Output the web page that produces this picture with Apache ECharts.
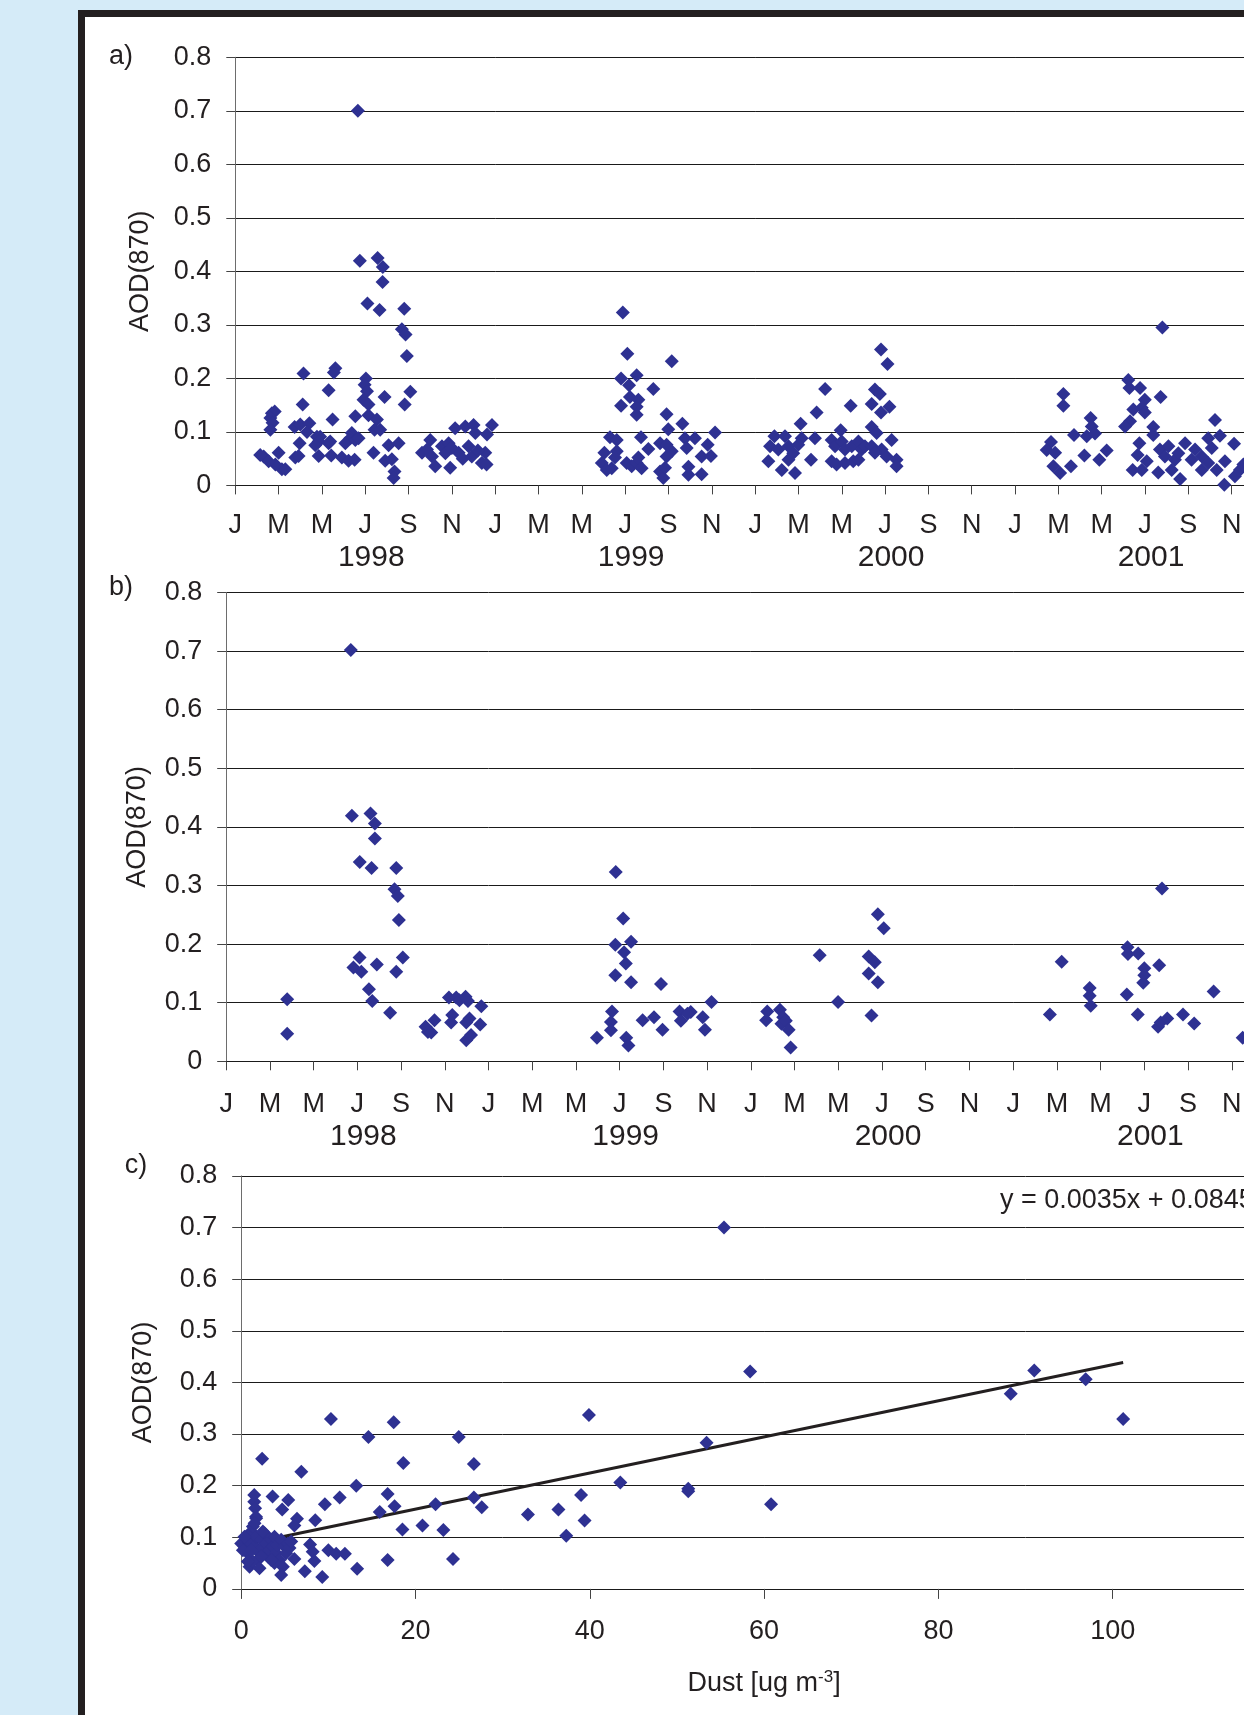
<!DOCTYPE html>
<html>
<head>
<meta charset="utf-8">
<script src="https://cdn.jsdelivr.net/npm/echarts@6/dist/echarts.min.js"></script>
<style>
  html, body { margin:0; padding:0; width:1244px; height:1715px; overflow:hidden; background:#d5ebf8; }
  #frame { position:absolute; left:78px; top:10px; width:1400px; height:1800px; background:#fff;
           border-left:7px solid #231f20; border-top:7px solid #231f20; }
  #chart { position:absolute; left:0; top:0; width:1400px; height:1715px; }
</style>
</head>
<body>
<div id="frame"></div>
<div id="chart"></div>
<script>
// ---------- DATA ----------
// x of panels a & b: months since 1 Jan 1998; y: AOD(870)
const monthTickLetters = ['J','M','M','J','S','N'];
const firstYear = 1998;
const aodTicks = [0,0.1,0.2,0.3,0.4,0.5,0.6,0.7,0.8];
const dustTicks = [0,20,40,60,80,100,120];

// Panel a) all AOD observations
const a1998 = [
  [1.31,0.054],[2.0,0.061],[1.85,0.039],[2.15,0.030],[2.31,0.030],[1.69,0.135],[1.82,0.138],[1.62,0.126],
  [1.72,0.117],[1.62,0.104],[1.54,0.045],[1.15,0.057],[2.74,0.109],[3.0,0.114],[3.42,0.116],[3.31,0.100],
  [3.77,0.091],[3.92,0.091],[3.85,0.082],[3.15,0.209],[3.11,0.151],[2.97,0.079],[2.77,0.052],[2.92,0.055],
  [3.69,0.075],[4.31,0.079],[4.38,0.082],[3.85,0.055],[4.43,0.056],[4.31,0.178],[4.62,0.219],[4.55,0.211],
  [4.49,0.123],[4.92,0.052],[5.23,0.046],[5.51,0.048],[5.38,0.098],[5.31,0.088],[5.08,0.079],[5.54,0.085],
  [5.69,0.088],[5.54,0.129],[6.03,0.200],[5.97,0.188],[6.08,0.176],[5.92,0.160],[6.15,0.151],[6.15,0.131],
  [6.54,0.123],[6.43,0.104],[6.69,0.104],[6.38,0.061],[6.89,0.165],[6.10,0.340],[6.66,0.328],[7.80,0.330],
  [7.69,0.292],[7.86,0.282],[7.92,0.242],[8.08,0.175],[7.82,0.151],[7.08,0.075],[7.54,0.079],[6.92,0.046],
  [7.23,0.049],[7.35,0.026],[7.31,0.014],[9.0,0.085],[5.66,0.700],[5.75,0.420],[6.57,0.425],[6.81,0.408],
  [6.80,0.380],
  [8.62,0.061],[8.85,0.067],[9.08,0.054],[9.23,0.036],[9.54,0.073],[9.85,0.079],[9.92,0.033],[10.15,0.107],
  [10.31,0.061],[10.62,0.110],[10.77,0.073],[11.0,0.113],[11.08,0.098],[10.92,0.054],[11.38,0.042],[11.62,0.095],
  [11.54,0.061],[11.85,0.113],[9.7,0.060],[10.0,0.070],[10.5,0.050],[11.2,0.065],[11.6,0.039]
];
const a1999 = [
  [17.89,0.323],[18.1,0.246],[20.15,0.232],[17.81,0.200],[18.53,0.206],[18.18,0.187],[19.3,0.180],[18.22,0.165],
  [18.61,0.160],[17.81,0.149],[18.53,0.147],[18.53,0.132],[19.91,0.133],[19.99,0.105],[20.64,0.115],[22.15,0.099],
  [17.3,0.090],[17.61,0.085],[18.73,0.090],[17.04,0.061],[17.61,0.064],[17.53,0.052],[16.92,0.042],[17.15,0.029],
  [17.38,0.032],[18.07,0.042],[18.3,0.036],[18.53,0.042],[18.76,0.032],[18.61,0.052],[19.07,0.068],[19.61,0.079],
  [19.91,0.076],[20.15,0.064],[19.91,0.054],[19.61,0.026],[19.76,0.014],[19.84,0.033],[20.76,0.088],[21.22,0.088],
  [20.84,0.070],[20.92,0.035],[20.92,0.020],[21.53,0.054],[21.96,0.055],[21.81,0.076],[21.53,0.021]
];
const a2000 = [
  [29.81,0.254],[30.11,0.227],[27.23,0.180],[29.53,0.179],[29.76,0.171],[28.41,0.149],[29.38,0.152],[30.2,0.147],
  [29.81,0.136],[26.84,0.136],[26.1,0.115],[29.38,0.109],[29.61,0.098],[27.95,0.103],[24.89,0.092],[25.38,0.092],
  [26.15,0.088],[26.76,0.088],[24.69,0.073],[25.07,0.067],[25.54,0.073],[24.61,0.045],[25.23,0.029],[25.84,0.023],
  [25.54,0.048],[25.76,0.060],[25.99,0.076],[26.58,0.048],[27.53,0.085],[27.69,0.073],[28.0,0.082],[28.15,0.067],
  [28.46,0.073],[28.77,0.082],[28.92,0.067],[29.07,0.073],[27.53,0.045],[27.76,0.039],[28.15,0.042],[28.53,0.045],
  [28.77,0.048],[29.84,0.067],[30.3,0.085],[30.07,0.054],[30.53,0.048],[30.53,0.036],[29.38,0.073],[29.53,0.061]
];
const a2001 = [
  [42.8,0.295],[38.23,0.171],[38.23,0.149],[41.23,0.197],[41.28,0.182],[41.77,0.182],[42.72,0.165],[41.99,0.160],
  [41.85,0.145],[41.46,0.142],[41.99,0.136],[41.31,0.120],[41.08,0.110],[42.38,0.109],[42.38,0.094],[39.49,0.126],
  [39.54,0.110],[39.31,0.092],[39.69,0.097],[38.72,0.094],[37.66,0.081],[37.46,0.066],[37.85,0.061],[37.77,0.036],
  [38.08,0.023],[38.58,0.036],[39.2,0.056],[39.89,0.048],[40.23,0.065],[41.74,0.079],[41.66,0.057],[41.43,0.029],
  [41.85,0.029],[42.08,0.045],[42.69,0.067],[43.08,0.073],[42.92,0.054],[43.38,0.048],[43.54,0.060],[43.23,0.029],
  [43.62,0.012],[42.61,0.024],[43.85,0.079],[44.31,0.067],[44.15,0.048],[44.62,0.054],[44.92,0.042],[44.62,0.029],
  [45.23,0.122],[44.92,0.088],[45.46,0.093],[45.08,0.070],[45.31,0.029],[45.69,0.045],[46.11,0.078],[45.66,0.001],
  [46.15,0.017],[46.38,0.029],[46.54,0.039]
];

// Panel b) AOD on days with dust observations
const b1998 = [
  [2.79,0.106],[2.79,0.047],[5.7,0.702],[5.75,0.419],[6.6,0.423],[6.8,0.406],[6.8,0.380],[6.11,0.340],[6.65,0.330],
  [7.78,0.330],[7.7,0.2935],[7.85,0.282],[7.9,0.241],[8.08,0.177],[7.78,0.153],[6.1,0.177],[5.82,0.160],[6.18,0.153],
  [6.89,0.165],[6.53,0.123],[6.68,0.103],[7.5,0.083],[9.12,0.059],[9.23,0.050],[9.53,0.070],[9.38,0.049],[10.19,0.109],
  [10.52,0.109],[10.67,0.104],[10.95,0.110],[11.06,0.103],[10.34,0.079],[10.29,0.066],[10.98,0.066],[11.13,0.073],
  [11.62,0.063],[11.67,0.094],[10.98,0.036],[11.2,0.045]
];
const b1999 = [
  [16.96,0.040],[17.82,0.323],[17.8,0.199],[17.65,0.085],[17.6,0.067],[17.6,0.053],[17.8,0.147],[18.16,0.2435],
  [18.52,0.204],[18.2,0.186],[18.28,0.167],[18.52,0.135],[18.3,0.040],[18.4,0.027],[19.05,0.070],[19.57,0.075],
  [19.89,0.132],[19.96,0.054],[20.74,0.085],[20.8,0.069],[21.25,0.084],[21.1,0.081],[21.8,0.075],[21.9,0.054],[22.2,0.101]
];
const b2000 = [
  [24.75,0.085],[24.7,0.070],[25.33,0.088],[25.48,0.075],[25.4,0.064],[25.6,0.069],[25.73,0.054],[25.82,0.0235],
  [27.15,0.181],[27.99,0.101],[29.39,0.179],[29.67,0.169],[29.39,0.150],[29.81,0.135],[29.52,0.078],[29.81,0.251],[30.08,0.227]
];
const b2001 = [
  [37.68,0.080],[38.22,0.170],[39.5,0.125],[39.5,0.112],[39.55,0.095],[41.23,0.1945],[41.25,0.183],[41.72,0.184],
  [42.0,0.159],[42.0,0.147],[41.95,0.134],[41.2,0.114],[41.7,0.080],[42.68,0.164],[42.81,0.295],[42.63,0.059],
  [42.75,0.066],[43.05,0.073],[43.77,0.080],[44.28,0.0645],[45.17,0.119],[46.5,0.040]
];

// Panel c) AOD vs dust concentration [ug m-3]
const dustHigh = [
  [55.4,0.700],[58.4,0.421],[91.0,0.423],[96.9,0.406],[88.3,0.378],[101.2,0.329],[53.4,0.283],[51.3,0.194],
  [51.3,0.189],[60.8,0.164],[43.5,0.206],[39.9,0.337],[39.0,0.182],[39.4,0.1325],[37.3,0.103],[36.4,0.154],
  [32.9,0.144],[24.96,0.294],[26.7,0.242],[26.7,0.177],[27.6,0.158],[24.3,0.058],[23.2,0.114],[22.3,0.164],
  [20.8,0.123],[18.6,0.244],[17.5,0.323],[16.8,0.184],[17.6,0.160],[15.9,0.149],[18.5,0.115],[16.8,0.056],
  [14.6,0.294],[13.2,0.200],[13.3,0.039],[10.3,0.329],[11.3,0.177],[9.6,0.164],[8.5,0.133],[10.0,0.075],
  [10.9,0.068],[11.9,0.068],[6.9,0.227],[2.4,0.252],[3.6,0.179],[5.4,0.172],[4.7,0.154],[6.4,0.136],[6.1,0.123],
  [7.9,0.086],[8.2,0.072],[8.4,0.054],[9.3,0.023],[7.3,0.034],[6.1,0.058]
];
const dustLow = [
  [1.5,0.182],[1.5,0.169],[1.6,0.156],[1.7,0.140],[0,0.088],[0.38,0.082],[0.57,0.101],[0.76,0.069],[0.96,0.091],
  [1.15,0.111],[1.34,0.121],[1.53,0.082],[1.72,0.101],[1.91,0.056],[2.1,0.069],[2.29,0.095],[2.49,0.079],[2.68,0.108],
  [2.87,0.088],[3.06,0.063],[3.25,0.075],[3.44,0.095],[3.63,0.082],[3.82,0.101],[4.02,0.069],[4.21,0.085],[4.4,0.056],
  [4.59,0.095],[4.78,0.043],[4.97,0.082],[5.16,0.069],[5.35,0.088],[5.54,0.079],[5.74,0.092],[0.96,0.043],[1.34,0.053],
  [2.1,0.040],[0.76,0.053],[0.38,0.101],[1.72,0.137],[1.53,0.127],[2.49,0.111],[3.82,0.050],[4.59,0.027],[3.44,0.056],
  [0.19,0.075],[1.15,0.075],[2.29,0.063]
];
// Linear fit shown on panel c
const trendSlope = 0.0035;
const trendIntercept = 0.0845;
const trendDustRange = [0, 101.2];

// ---------- CHART ----------
const FONT = '"Liberation Sans", Arial, sans-serif';
const TXT = '#231f20';
const BLUE = '#2e3192';
const FS = 27;

function yAxisFor(gi, gap) {
  return {
    type:'value', gridIndex:gi, min:aodTicks[0], max:aodTicks[aodTicks.length-1], interval:0.1,
    name:'AOD(870)', nameLocation:'middle', nameGap:gap,
    nameTextStyle:{fontFamily:FONT, fontSize:FS, color:TXT},
    axisLine:{show:true, lineStyle:{color:'#6d6d6d', width:1}},
    axisTick:{show:true, inside:false, length:9, lineStyle:{color:'#444'}},
    axisLabel:{margin:24, fontFamily:FONT, fontSize:FS, color:TXT,
      formatter:v => (Math.abs(v) < 1e-9 ? '0' : v.toFixed(1))},
    splitLine:{show:true, lineStyle:{color:'#1a1a1a', width:1}}
  };
}
function monthAxisFor(gi, margin) {
  return {
    type:'value', gridIndex:gi, min:0, max:48, interval:2,
    axisLine:{show:true, onZero:false, lineStyle:{color:'#1a1a1a', width:1}},
    axisTick:{show:true, length:9, lineStyle:{color:'#444'}},
    splitLine:{show:false},
    axisLabel:{margin:margin, fontFamily:FONT, color:TXT, showMinLabel:true, showMaxLabel:true,
      formatter:v => {
        const m = Math.round(v);
        const L = monthTickLetters[(m/2) % 6];
        if (m % 12 === 6) return '{m|' + L + '}\n{y|' + (firstYear + Math.floor(m/12)) + '}';
        return '{m|' + L + '}';
      },
      rich:{
        m:{fontFamily:FONT, fontSize:FS, color:TXT, lineHeight:30},
        y:{fontFamily:FONT, fontSize:30, color:TXT, lineHeight:34, padding:[0,0,0,12]}
      }
    }
  };
}
function scatter(name, xi, data) {
  return {type:'scatter', name, xAxisIndex:xi, yAxisIndex:xi, data, symbol:'diamond', symbolSize:14,
          itemStyle:{color:BLUE, opacity:1}, emphasis:{disabled:true}, animation:false};
}

const trendData = trendDustRange.map(x => [x, trendIntercept + trendSlope * x]);

const option = {
  animation:false,
  textStyle:{fontFamily:FONT},
  grid:[
    {left:235.3, top:57.3, width:48*21.66, height:428.1, outerBoundsMode:'none', containLabel:false},
    {left:226.2, top:592.5, width:48*21.86, height:468.8, outerBoundsMode:'none', containLabel:false},
    {left:241.2, top:1175.9, width:120*8.715, height:413, outerBoundsMode:'none', containLabel:false}
  ],
  xAxis:[
    monthAxisFor(0, 25),
    monthAxisFor(1, 28),
    {
      type:'value', gridIndex:2, min:dustTicks[0], max:dustTicks[dustTicks.length-1], interval:20,
      name:'Dust [ug m{s|-3}]', nameLocation:'middle', nameGap:80,
      nameTextStyle:{fontFamily:FONT, fontSize:FS, color:TXT, lineHeight:30,
        rich:{s:{fontFamily:FONT, fontSize:17, color:TXT, verticalAlign:'top', lineHeight:30, padding:[0,0,10,0]}}},
      axisLine:{show:true, onZero:false, lineStyle:{color:'#1a1a1a', width:1}},
      axisTick:{show:true, length:10, lineStyle:{color:'#444'}},
      splitLine:{show:false},
      axisLabel:{margin:29, fontFamily:FONT, fontSize:FS, color:TXT}
    }
  ],
  yAxis:[ yAxisFor(0, 81), yAxisFor(1, 75), yAxisFor(2, 84) ],
  series:[
    scatter('a1998',0,a1998), scatter('a1999',0,a1999), scatter('a2000',0,a2000), scatter('a2001',0,a2001),
    scatter('b1998',1,b1998), scatter('b1999',1,b1999), scatter('b2000',1,b2000), scatter('b2001',1,b2001),
    scatter('dustLow',2,dustLow), scatter('dustHigh',2,dustHigh),
    {type:'line', xAxisIndex:2, yAxisIndex:2, data:trendData, symbol:'none', silent:true,
     lineStyle:{color:TXT, width:3}, z:1}
  ],
  graphic:[
    {type:'text', x:121, y:57, style:{text:'a)', font:FS + 'px ' + FONT, fill:TXT, align:'center', verticalAlign:'middle'}},
    {type:'text', x:121, y:588, style:{text:'b)', font:FS + 'px ' + FONT, fill:TXT, align:'center', verticalAlign:'middle'}},
    {type:'text', x:136, y:1166, style:{text:'c)', font:FS + 'px ' + FONT, fill:TXT, align:'center', verticalAlign:'middle'}},
    {type:'text', x:1000, y:1201, style:{text:'y = ' + trendSlope + 'x + ' + trendIntercept,
      font:FS + 'px ' + FONT, fill:TXT, align:'left', verticalAlign:'middle'}}
  ]
};

const chart = echarts.init(document.getElementById('chart'), null, {renderer:'canvas'});
chart.setOption(option);
</script>
</body>
</html>
